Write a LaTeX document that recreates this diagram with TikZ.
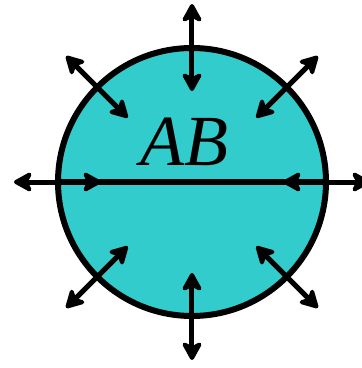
\documentclass[tikz,border=0pt]{standalone}
\usepackage{fontspec}
\setmainfont{Liberation Serif}
\usetikzlibrary{arrows.meta, calc}
\definecolor{diskfill}{RGB}{51,204,204}

\begin{document}
\begin{tikzpicture}[x=1pt, y=1pt,
  bothways/.style={{Stealth[length=22pt, width=24pt, inset=6pt, round]}-{Stealth[length=22pt, width=24pt, inset=6pt, round]}, line width=5pt}]
  \useasboundingbox (0,0) rectangle (362,368);

  % Disk
  \node[circle, draw, line width=6pt, fill=diskfill,
        minimum size=268pt, inner sep=0pt] (disk) at (192,186) {};

  % Diameter
  \draw[line width=5.5pt] (disk.west) -- (disk.east);

  % Label
  \node[font=\fontsize{72}{72}\selectfont\itshape, anchor=base] (lbl) at (184,203) {AB};

  % Arrows across the boundary
  \foreach \ang in {0,45,...,315} {
    \coordinate (in\ang) at ($(disk.center)+(\ang:91)$);
    \coordinate (out\ang) at ($(disk.center)+(\ang:178)$);
    \draw[bothways] (in\ang) -- (out\ang);
  }
\end{tikzpicture}
\end{document}
